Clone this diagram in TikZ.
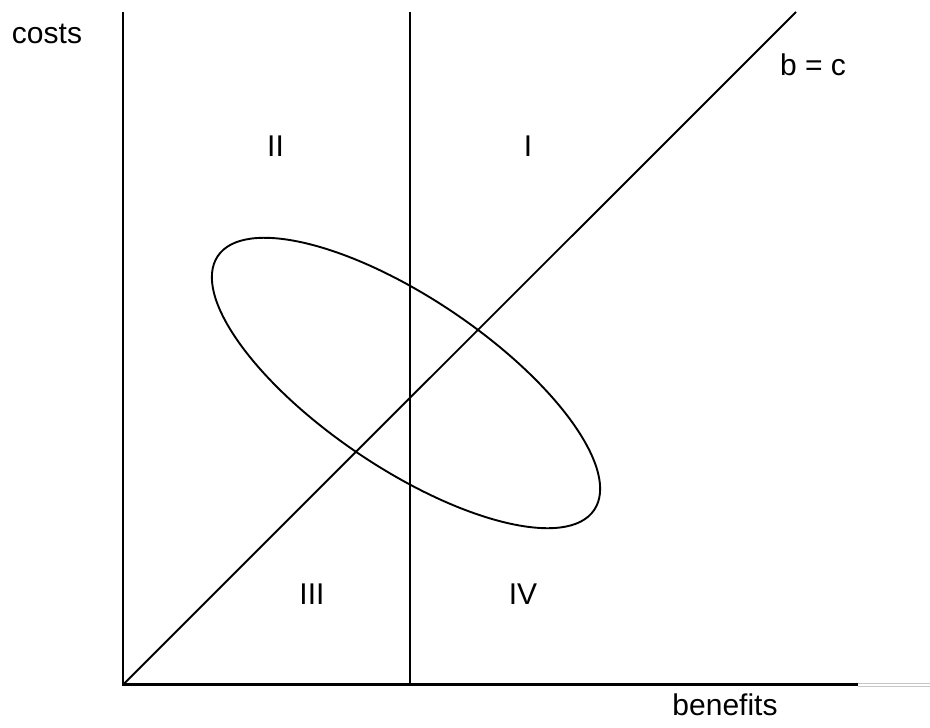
\documentclass[tikz,border=0pt]{standalone}
\usepackage{fontspec}
\setmainfont{Liberation Sans}
\begin{document}
\begin{tikzpicture}[x=1pt,y=-1pt,
  axis/.style={line width=2.6pt},
  thinline/.style={line width=1.9pt},
  lbl/.style={anchor=base,inner sep=0pt,font=\fontsize{30}{36}\selectfont}]
\useasboundingbox (0,0) rectangle (930,728);
\coordinate (O) at (123,684.7);
\coordinate (Ytop) at (123,12);
\coordinate (Xend) at (858,684.7);
\coordinate (Mtop) at (410,12);
\coordinate (Mbot) at (410,684.7);
\coordinate (Dtop) at (796,12);
\coordinate (C) at (406,383);
% axes
\draw[axis] (Ytop) -- (O) -- (Xend);
\draw[gray!45,line width=0.6pt] (858,683.3) -- (930,683.3) (858,686.1) -- (930,686.1);
% divider and diagonal
\draw[axis] (Mtop) -- (Mbot);
\draw[thinline] (O) -- (Dtop);
% ellipse
\draw[thinline,rotate around={-34:(C)}] (C) ellipse [x radius=227pt, y radius=85pt];
% labels
\node[lbl] (costs) at (47,43) {costs};
\node[lbl] (bc) at (813,75) {b = c};
\node[lbl] (II) at (275.5,156) {II};
\node[lbl] (I) at (528,156) {I};
\node[lbl] (III) at (312,604) {III};
\node[lbl] (IV) at (523,604) {IV};
\node[lbl] (ben) at (725,715) {benefits};
\end{tikzpicture}
\end{document}
